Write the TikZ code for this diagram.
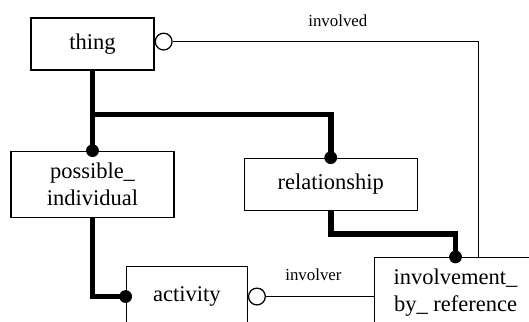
\documentclass[tikz,border=0pt]{standalone}
\usepackage{fontspec}
\setmainfont{Liberation Serif}
\usetikzlibrary{positioning,calc}

\begin{document}
\begin{tikzpicture}[
  box/.style={draw, line width=0.9pt, minimum height=1.3cm, align=center, inner sep=1pt, font=\fontsize{16}{19}\selectfont, fill=white},
  lbl/.style={font=\fontsize{12}{14}\selectfont, inner sep=0pt},
  opendot/.style={draw, circle, line width=0.9pt, fill=white, minimum size=0.42cm, inner sep=0pt},
  thin/.style={line width=0.9pt},
  heavy/.style={line width=4pt}]
\useasboundingbox (0,0) rectangle (13.225,-8.025);
\clip (0,0) rectangle (13.225,-8.025);
\node[box, minimum width=3.075cm] (thing) at (2.3125,-1.1) {thing};
\node[box, minimum width=4.075cm, minimum height=1.65cm, below=2cm of thing] (pi) {possible\_\\individual};
\node[box, minimum width=4.325cm, right=1.725cm of pi] (rel) {relationship};
\node[box, minimum width=3.025cm, minimum height=1.5cm, below right=1.2cm and -1.225cm of pi] (act) {activity};
\node[box, minimum width=4.05cm, minimum height=1.75cm, below right=1.15cm and -1.1cm of rel] (inv) {involvement\_\\by\_ reference};
\node[opendot, right=0pt of thing, yshift=0.06cm] (thingc) {};
\node[opendot, right=0pt of act] (actc) {};
\coordinate (split) at ($(thing.south)!0.55!(pi.north)$);
\coordinate (bend) at ($(rel.south)+(0,-0.575cm)$);
\draw[heavy] (thing.south) -- (pi.north);
\draw[heavy] (split) -| (rel.north);
\draw[heavy] (rel.south) -- (bend) -| (inv.north);
\draw[heavy] (pi.south) |- (act.west);
\draw[thin] (thingc.east) -| node[lbl, pos=0.27, above=10pt] {involved} ([xshift=0.575cm]inv.north);
\draw[thin] (actc.east) -- node[lbl, pos=0.44, above=11pt] {involver} (actc.east -| inv.west);
\foreach \a in {pi.north, rel.north, act.west, inv.north}
  \fill (\a) circle (0.16cm);
\end{tikzpicture}
\end{document}
